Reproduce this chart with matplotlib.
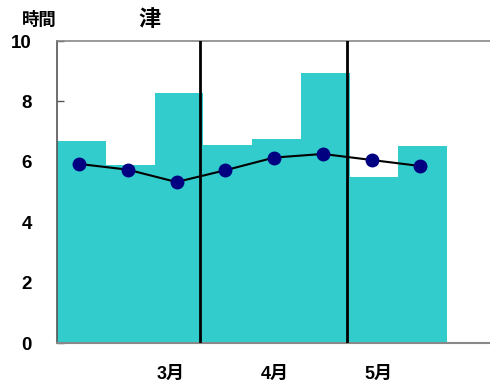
import matplotlib.pyplot as plt
import numpy as np

plt.rcParams['font.family'] = ['Liberation Sans', 'Noto Sans CJK JP', 'DejaVu Sans']

# sunshine hours per dekad (bars) and normal values (line)
dekads = np.arange(8)
sunshine = [6.68, 5.88, 8.27, 6.55, 6.75, 8.93, 5.49, 6.53]
normal = [5.93, 5.74, 5.33, 5.72, 6.14, 6.26, 6.06, 5.86]
months = ["3月", "4月", "5月"]
month_label_x = [2.32, 4.47, 6.58]
month_bounds = [2.93, 5.94]

fig = plt.figure(figsize=(4.9, 3.89), dpi=100)
ax = fig.add_axes([57 / 490, 46 / 389, 439 / 490, 302 / 389])

ax.bar(dekads + 0.5, sunshine, width=1.0, color="#33CCCC", zorder=2)
ax.plot(dekads + 0.45, normal, color="black", lw=1.5, zorder=4)
ax.plot(dekads + 0.45, normal, "o", color="#000080", ms=9, zorder=5)

for xb in month_bounds:
    ax.axvline(xb, color="black", lw=2, zorder=3)

ax.set_xlim(0, 9)
ax.set_ylim(0, 10)
ax.set_yticks(range(0, 11, 2))
ax.set_xticks([])
ax.tick_params(axis="y", direction="in", length=5, width=1, color="#555555",
               labelsize=13.5, pad=18)
for lbl in ax.get_yticklabels():
    lbl.set_fontweight("bold")

ax.spines["left"].set_color("#555555")
ax.spines["left"].set_linewidth(1.2)
ax.spines["top"].set_color("#888888")
ax.spines["top"].set_linewidth(1.2)
ax.spines["bottom"].set_color("#888888")
ax.spines["bottom"].set_linewidth(1.5)
ax.spines["right"].set_visible(False)

for x, m in zip(month_label_x, months):
    ax.text(x, -1.05, m, ha="center", va="center", fontsize=13, fontweight="bold",
            family=["Liberation Sans", "Noto Sans CJK JP"])

fig.text(22 / 490, 1 - 20 / 389, "時間", ha="left", va="center", fontsize=12.5,
         fontweight="bold", family=["Noto Sans CJK JP"])
fig.text(150 / 490, 1 - 19 / 389, "津", ha="center", va="center", fontsize=16,
         fontweight="bold", family=["Noto Sans CJK JP"])

fig.savefig("out.png", dpi=100)
